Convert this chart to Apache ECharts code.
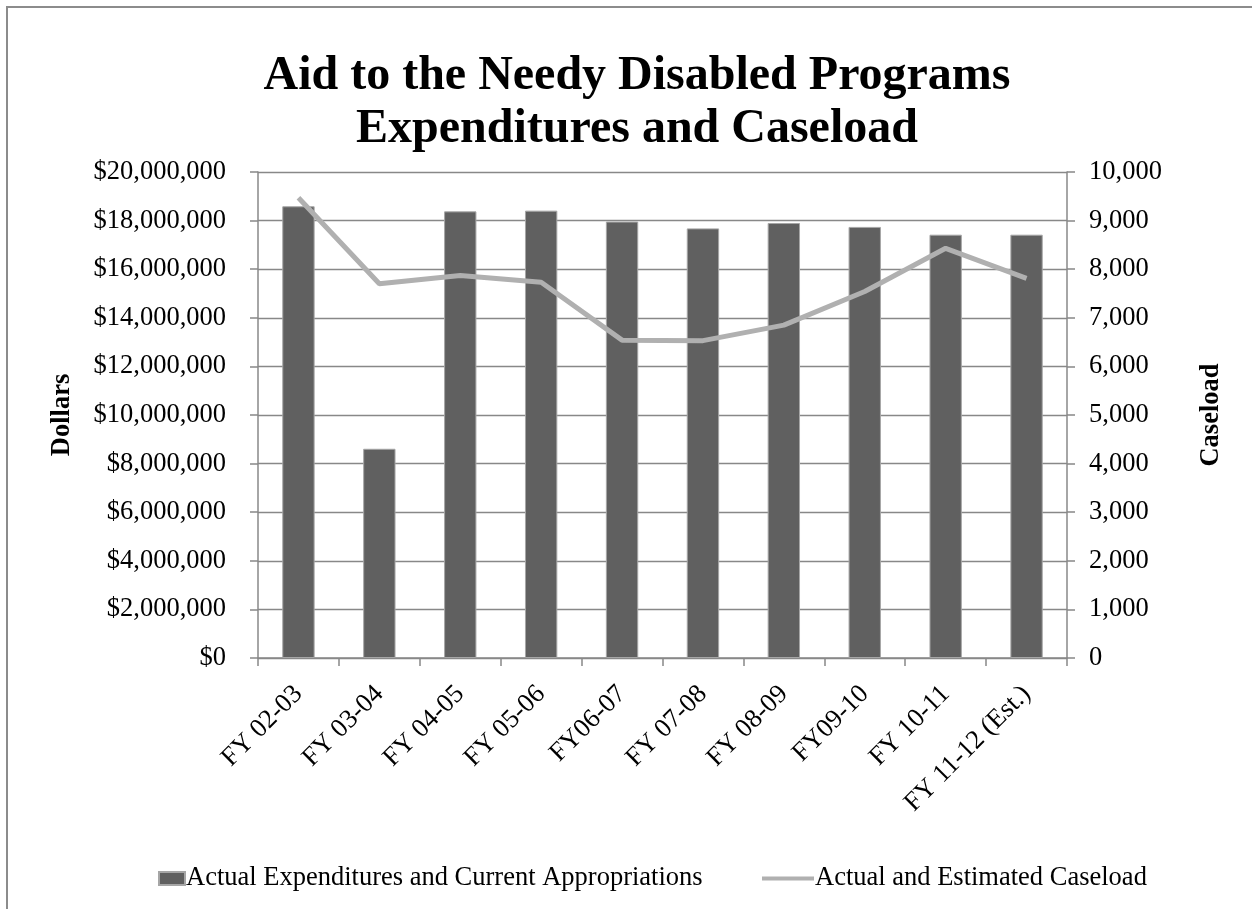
<!DOCTYPE html>
<html>
<head>
<meta charset="utf-8">
<script src="https://cdn.jsdelivr.net/npm/echarts@6/dist/echarts.min.js"></script>
<style>
html,body{margin:0;padding:0;background:#fff;}
#c{width:1252px;height:909px;}
</style>
</head>
<body>
<div id="c"></div>
<script>
const categories = ['FY 02-03','FY 03-04','FY 04-05','FY 05-06','FY06-07','FY 07-08','FY 08-09','FY09-10','FY 10-11','FY 11-12 (Est.)'];
const expenditures = [18590000, 8610000, 18380000, 18410000, 17960000, 17680000, 17900000, 17740000, 17420000, 17420000];
const caseload = [9470, 7700, 7870, 7730, 6540, 6530, 6850, 7540, 8430, 7810];
const barName = 'Actual Expenditures and Current Appropriations';
const lineName = 'Actual and Estimated Caseload';
const titleLines = ['Aid to the Needy Disabled Programs', 'Expenditures and Caseload'];

const FONT = '"Liberation Serif","Times New Roman",serif';
const FS = 26.5;
const chart = echarts.init(document.getElementById('c'));
chart.setOption({
  backgroundColor: '#fff',
  animation: false,
  textStyle: { fontFamily: FONT, color: '#000' },
  graphic: [{
    type: 'rect', silent: true,
    shape: { x: 7, y: 7, width: 1300, height: 1000 },
    style: { fill: 'none', stroke: '#8c8c8c', lineWidth: 2 }
  }],
  title: {
    text: titleLines.join('\n'),
    left: 632, textAlign: 'center', top: 45,
    textStyle: { fontFamily: FONT, fontWeight: 'bold', fontSize: 48, lineHeight: 53, color: '#000' }
  },
  legend: [{
    data: [barName], left: 153, top: 860,
    icon: 'rect', itemWidth: 26, itemHeight: 13, itemGap: 4,
    textStyle: { fontFamily: FONT, fontSize: FS, color: '#000', padding: [0,0,0,-4] }
  }, {
    data: [lineName], left: 757, top: 860,
    icon: 'rect', itemWidth: 52, itemHeight: 4,
    itemStyle: { color: '#b0b0b0' },
    textStyle: { fontFamily: FONT, fontSize: FS, color: '#000', padding: [0,0,0,-4] }
  }],
  grid: { left: 258, right: 185, top: 172, bottom: 251, containLabel: false },
  xAxis: {
    type: 'category', data: categories,
    axisLine: { lineStyle: { color: '#888', width: 1.5 } },
    axisTick: { show: true, length: 8, lineStyle: { color: '#888', width: 1.5 } },
    axisLabel: { rotate: 45, fontFamily: FONT, fontSize: FS, color: '#000', margin: 32, padding: [12,0,0,0] }
  },
  yAxis: [{
    type: 'value', min: 0, max: 20000000, interval: 2000000,
    name: 'Dollars', nameLocation: 'middle', nameGap: 182, nameRotate: 90,
    nameTextStyle: { fontFamily: FONT, fontWeight: 'bold', fontSize: FS, color: '#000' },
    axisLine: { show: true, lineStyle: { color: '#888', width: 1.5 } },
    axisTick: { show: true, length: 8, lineStyle: { color: '#888', width: 1.5 } },
    splitLine: { lineStyle: { color: '#888', width: 1.3 } },
    axisLabel: {
      fontFamily: FONT, fontSize: FS, color: '#000', margin: 32,
      formatter: v => '$' + v.toLocaleString('en-US')
    }
  }, {
    type: 'value', min: 0, max: 10000, interval: 1000, position: 'right',
    name: 'Caseload', nameLocation: 'middle', nameGap: 131, nameRotate: 90,
    nameTextStyle: { fontFamily: FONT, fontWeight: 'bold', fontSize: FS, color: '#000' },
    axisLine: { show: true, lineStyle: { color: '#888', width: 1.5 } },
    axisTick: { show: true, length: 8, lineStyle: { color: '#888', width: 1.5 } },
    splitLine: { show: false },
    axisLabel: {
      fontFamily: FONT, fontSize: FS, color: '#000', margin: 22,
      formatter: v => v.toLocaleString('en-US')
    }
  }],
  series: [{
    name: barName, type: 'bar', data: expenditures, yAxisIndex: 0,
    barWidth: '40%',
    itemStyle: { color: '#606060', borderColor: '#a6a6a6', borderWidth: 1 }
  }, {
    name: lineName, type: 'line', data: caseload, yAxisIndex: 1,
    showSymbol: false, symbol: 'none',
    lineStyle: { color: '#b0b0b0', width: 5 },
    itemStyle: { color: '#b0b0b0' }
  }]
});
</script>
</body>
</html>
